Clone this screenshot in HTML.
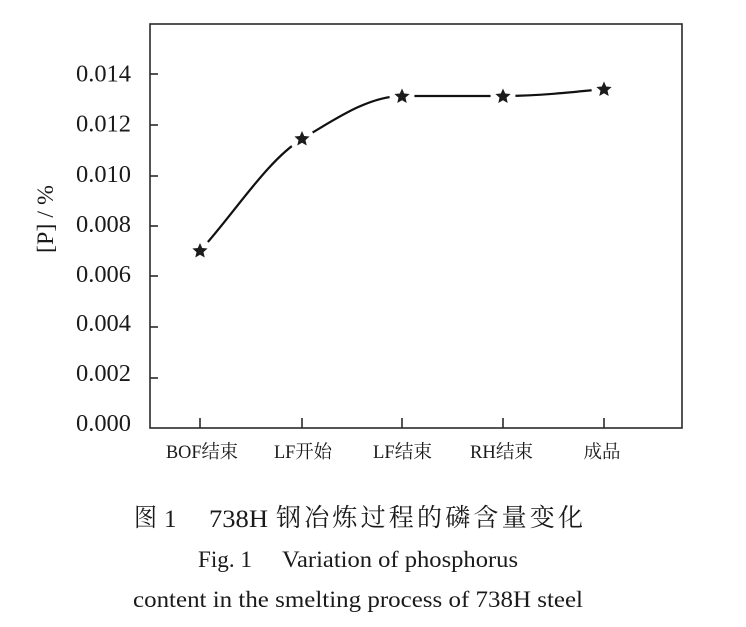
<!DOCTYPE html>
<html>
<head>
<meta charset="utf-8">
<style>
  html, body { margin:0; padding:0; background:#fff; }
  svg { display:block; }
  .lat { font-family: "Liberation Serif", "Noto Serif CJK SC", serif; fill:#1a1a1a; }
  .cjk { font-family: "Liberation Serif", "Noto Serif CJK SC", serif; fill:#1a1a1a; }
</style>
</head>
<body>
<svg width="746" height="627" viewBox="0 0 746 627" xmlns="http://www.w3.org/2000/svg">
  <rect x="0" y="0" width="746" height="627" fill="#fff"/>

  <!-- series curve -->
  <path d="M200,251 C234,213.6 268,159.4 302,139 C335.3,119 368.7,96 402,96 L503,96 C536.7,96 570.3,92.5 604,89"
        fill="none" stroke="#111" stroke-width="2.2"/>
  <!-- gaps around markers -->
  <g fill="#fff">
    <circle cx="200" cy="251" r="12"/>
    <circle cx="302" cy="139" r="12.5"/>
    <circle cx="402" cy="96" r="12.5"/>
    <circle cx="503" cy="96" r="12.5"/>
    <circle cx="604" cy="89" r="12.5"/>
  </g>
  <!-- star markers -->
  <defs>
    <polygon id="st" points="0,-8 2.2,-3 7.61,-2.47 3.51,1.14 4.7,6.47 0,3.7 -4.7,6.47 -3.51,1.14 -7.61,-2.47 -2.2,-3" fill="#1c1c1c"/>
  </defs>
  <use href="#st" x="200" y="251"/>
  <use href="#st" x="302" y="139"/>
  <use href="#st" x="402" y="96.5"/>
  <use href="#st" x="503" y="96.5"/>
  <use href="#st" x="604" y="89.5"/>

  <!-- frame -->
  <rect x="150" y="24" width="532" height="404" fill="none" stroke="#2a2a2a" stroke-width="1.6"/>

  <!-- y ticks (inward) -->
  <g stroke="#2a2a2a" stroke-width="1.6">
    <line x1="150" y1="74" x2="158" y2="74"/>
    <line x1="150" y1="125" x2="158" y2="125"/>
    <line x1="150" y1="176" x2="158" y2="176"/>
    <line x1="150" y1="226" x2="158" y2="226"/>
    <line x1="150" y1="276" x2="158" y2="276"/>
    <line x1="150" y1="327" x2="158" y2="327"/>
    <line x1="150" y1="378" x2="158" y2="378"/>
  </g>
  <!-- x ticks (inward) -->
  <g stroke="#2a2a2a" stroke-width="1.6">
    <line x1="200" y1="428" x2="200" y2="418"/>
    <line x1="302" y1="428" x2="302" y2="418"/>
    <line x1="402" y1="428" x2="402" y2="418"/>
    <line x1="503" y1="428" x2="503" y2="418"/>
    <line x1="604" y1="428" x2="604" y2="418"/>
  </g>

  <!-- y tick labels -->
  <g class="lat" font-size="24" text-anchor="end">
    <text x="131" y="81.5" textLength="55" lengthAdjust="spacingAndGlyphs">0.014</text>
    <text x="131" y="131.5" textLength="55" lengthAdjust="spacingAndGlyphs">0.012</text>
    <text x="131" y="182" textLength="55" lengthAdjust="spacingAndGlyphs">0.010</text>
    <text x="131" y="232" textLength="55" lengthAdjust="spacingAndGlyphs">0.008</text>
    <text x="131" y="282" textLength="55" lengthAdjust="spacingAndGlyphs">0.006</text>
    <text x="131" y="331" textLength="55" lengthAdjust="spacingAndGlyphs">0.004</text>
    <text x="131" y="381" textLength="55" lengthAdjust="spacingAndGlyphs">0.002</text>
    <text x="131" y="431" textLength="55" lengthAdjust="spacingAndGlyphs">0.000</text>
  </g>

  <!-- y axis label -->
  <text class="lat" font-size="23" text-anchor="middle" transform="translate(53,219) rotate(-90)" textLength="68" lengthAdjust="spacingAndGlyphs">[P] / %</text>

  <!-- x tick labels -->
  <g class="cjk" font-size="18.5" text-anchor="middle">
    <text x="202" y="458" textLength="72" lengthAdjust="spacingAndGlyphs">BOF结束</text>
    <text x="303" y="458" textLength="58" lengthAdjust="spacingAndGlyphs">LF开始</text>
    <text x="402.5" y="458" textLength="59" lengthAdjust="spacingAndGlyphs">LF结束</text>
    <text x="501.5" y="458" textLength="63" lengthAdjust="spacingAndGlyphs">RH结束</text>
    <text x="602" y="458" textLength="37" lengthAdjust="spacingAndGlyphs">成品</text>
  </g>

  <!-- caption -->
  <text class="cjk" font-size="25" x="134" y="526" textLength="23" lengthAdjust="spacingAndGlyphs">图</text>
  <text class="lat" font-size="25" x="164" y="527">1</text>
  <text class="lat" font-size="25" x="209" y="527" textLength="59" lengthAdjust="spacingAndGlyphs">738H</text>
  <text class="cjk" font-size="25" x="276" y="526" textLength="307" lengthAdjust="spacing">钢冶炼过程的磷含量变化</text>

  <text class="lat" font-size="23" x="198" y="567" textLength="54" lengthAdjust="spacingAndGlyphs">Fig. 1</text>
  <text class="lat" font-size="23" x="282" y="567" textLength="236" lengthAdjust="spacingAndGlyphs">Variation of phosphorus</text>

  <text class="lat" font-size="23" x="133" y="607" textLength="450" lengthAdjust="spacingAndGlyphs">content in the smelting process of 738H steel</text>
</svg>
</body>
</html>
